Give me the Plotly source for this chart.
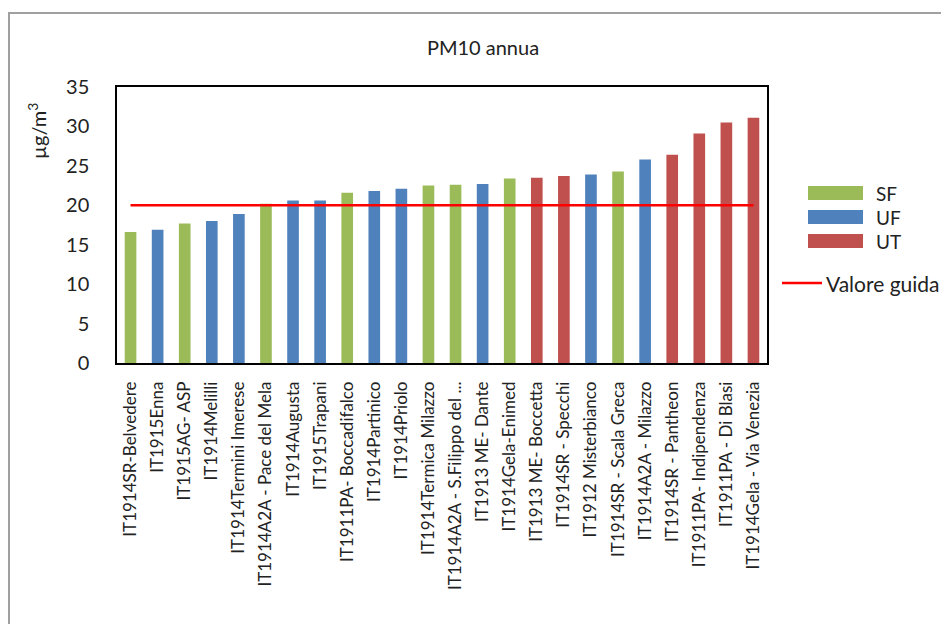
import plotly.graph_objects as go

# stazioni, valori medi annui PM10 (µg/m³) e tipo di zona
stations = [
    "IT1914SR-Belvedere", "IT1915Enna", "IT1915AG- ASP", "IT1914Melilli",
    "IT1914Termini Imerese", "IT1914A2A - Pace del Mela", "IT1914Augusta",
    "IT1915Trapani", "IT1911PA- Boccadifalco", "IT1914Partinico", "IT1914Priolo",
    "IT1914Termica Milazzo", "IT1914A2A - S.Filippo del ...", "IT1913 ME- Dante",
    "IT1914Gela-Enimed", "IT1913 ME- Boccetta", "IT1914SR - Specchi",
    "IT1912 Misterbianco", "IT1914SR - Scala Greca", "IT1914A2A - Milazzo",
    "IT1914SR - Pantheon", "IT1911PA- Indipendenza", "IT1911PA - Di Blasi",
    "IT1914Gela - Via Venezia",
]
pm10 = [16.6, 16.9, 17.7, 18.0, 18.9, 20.2, 20.6, 20.6, 21.6, 21.8, 22.1, 22.5,
        22.6, 22.7, 23.4, 23.5, 23.7, 23.9, 24.3, 25.8, 26.4, 29.1, 30.5, 31.1]
zone = ["SF", "UF", "SF", "UF", "UF", "SF", "UF", "UF", "SF", "UF", "UF", "SF",
        "SF", "UF", "SF", "UT", "UT", "UF", "SF", "UF", "UT", "UT", "UT", "UT"]
zone_names = ["SF", "UF", "UT"]
guide_value = 20
guide_name = "Valore guida"

COLORS = {"SF": "#9BBB59", "UF": "#4F81BD", "UT": "#C0504D"}
FONT = "Lato, Carlito, Calibri, sans-serif"

# the page body adds an 8px margin, so the figure is drawn 8px in
OFF = 8
FW, FH = 949 - OFF, 624 - OFF
# plot area in screen pixels
L, R, T, B = 117, 767, 87, 363
W, H = R - L, B - T


def px(x):
    return (x - L) / W


def py(y):
    return (B - y) / H


fig = go.Figure()
fig.add_trace(go.Bar(
    x=stations, y=pm10, width=0.43,
    marker_color=[COLORS[z] for z in zone], marker_line_width=0,
    showlegend=False,
))
fig.add_trace(go.Scatter(
    x=stations, y=[guide_value] * len(stations), mode="lines",
    line=dict(color="#FF0000", width=2.5), showlegend=False,
))

# legend drawn by hand (wide Excel-style patches)
shapes = []
annotations = []
for i, name in enumerate(zone_names):
    yc = 193 + i * 24
    shapes.append(dict(type="rect", xref="paper", yref="paper",
                       x0=px(808), x1=px(863), y0=py(yc + 7), y1=py(yc - 7),
                       fillcolor=COLORS[name], line_width=0))
    annotations.append(dict(text=name, xref="paper", yref="paper", x=px(874), y=py(yc),
                            xanchor="left", yanchor="middle", showarrow=False,
                            font=dict(family=FONT, size=19, color="#222")))
shapes.append(dict(type="line", xref="paper", yref="paper",
                   x0=px(782), x1=px(822), y0=py(283), y1=py(283),
                   line=dict(color="#FF0000", width=2.5)))
annotations.append(dict(text=guide_name, xref="paper", yref="paper", x=px(824), y=py(283),
                        xanchor="left", yanchor="middle", showarrow=False,
                        font=dict(family=FONT, size=21, color="#222")))
# outer frame
shapes.append(dict(type="rect", xref="paper", yref="paper",
                   x0=px(9), x1=px(970), y0=py(650), y1=py(13),
                   line=dict(color="#A0A0A0", width=2), fillcolor="rgba(0,0,0,0)"))
# y axis title
annotations.append(dict(text="µg/m<sup>3</sup>", xref="paper", yref="paper", x=px(37), y=py(131),
                        textangle=-90, showarrow=False, xanchor="center", yanchor="middle",
                        font=dict(family=FONT, size=20, color="#222")))

fig.update_layout(
    title=dict(text="PM10 annua", x=(483 - OFF) / FW, xanchor="center",
               y=1 - (48 - OFF) / FH, yanchor="middle",
               font=dict(family=FONT, size=20, color="#222")),
    width=FW, height=FH,
    margin=dict(l=L - OFF, r=FW - (R - OFF), t=T - OFF, b=FH - (B - OFF), autoexpand=False),
    paper_bgcolor="white", plot_bgcolor="white",
    shapes=shapes, annotations=annotations,
    font=dict(family=FONT, color="#222"),
)
fig.update_xaxes(
    tickangle=-90, tickfont=dict(family=FONT, size=17, color="#222"),
    showline=True, linecolor="#000", linewidth=1.5, mirror=True,
    showgrid=False, ticks="", ticklabelstandoff=10, automargin=False,
)
fig.update_yaxes(
    range=[0, 35], dtick=5, tickfont=dict(family=FONT, size=20, color="#222"),
    showline=True, linecolor="#000", linewidth=1.5, mirror=True,
    showgrid=False, zeroline=False, ticks="", ticklabelstandoff=22, automargin=False,
)

fig.write_html("out.html")
